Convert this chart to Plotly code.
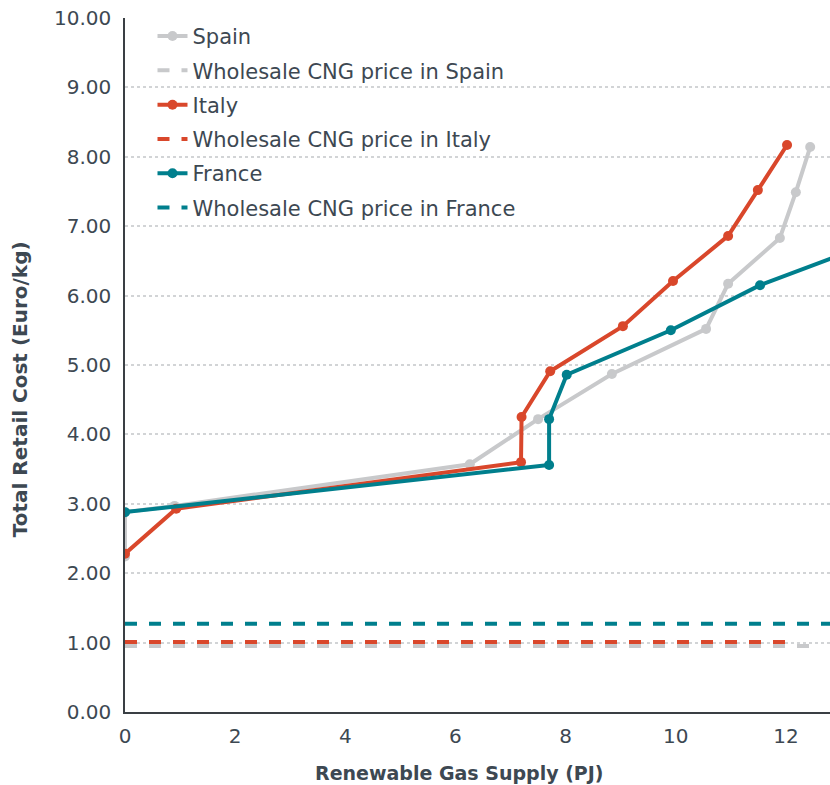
import plotly.graph_objects as go

spain_x = [0, 0, 0.9, 6.26, 7.5, 8.84, 10.55, 10.95, 11.89, 12.18, 12.44]
spain_y = [2.24, 2.88, 2.97, 3.57, 4.22, 4.87, 5.52, 6.17, 6.83, 7.49, 8.14]

italy_x = [0, 0.93, 7.19, 7.2, 7.72, 9.04, 9.95, 10.95, 11.49, 12.02]
italy_y = [2.28, 2.93, 3.60, 4.25, 4.91, 5.56, 6.21, 6.86, 7.52, 8.17]

france_x = [0, 7.7, 7.7, 8.02, 9.91, 11.53, 13.7]
france_y = [2.88, 3.56, 4.22, 4.86, 5.50, 6.15, 6.80]

wholesale_spain_x = [0, 12.47]
wholesale_spain_y = [0.95, 0.95]
wholesale_italy_x = [0, 12.02]
wholesale_italy_y = [1.01, 1.01]
wholesale_france_x = [0, 13.7]
wholesale_france_y = [1.27, 1.27]

x_title = "Renewable Gas Supply (PJ)"
y_title = "Total Retail Cost (Euro/kg)"

GRAY = "#c8c9cb"
RED = "#d9472b"
TEAL = "#007f8d"
TEXT = "#3d4852"
FONT = "DejaVu Sans, sans-serif"

fig = go.Figure()
series = [
    (spain_x, spain_y, "Spain", GRAY, True),
    (wholesale_spain_x, wholesale_spain_y, "Wholesale CNG price in Spain", GRAY, False),
    (italy_x, italy_y, "Italy", RED, True),
    (wholesale_italy_x, wholesale_italy_y, "Wholesale CNG price in Italy", RED, False),
    (france_x, france_y, "France", TEAL, True),
    (wholesale_france_x, wholesale_france_y, "Wholesale CNG price in France", TEAL, False),
]
for i, (xs, ys, name, col, solid) in enumerate(series):
    if solid:
        fig.add_trace(go.Scatter(x=xs, y=ys, mode="lines+markers", name=name,
                                 legendgroup=f"g{i}",
                                 line=dict(color=col, width=4),
                                 marker=dict(size=10, color=col)))
    else:
        fig.add_trace(go.Scatter(x=xs, y=ys, mode="lines", name=name,
                                 legendgroup=f"g{i}",
                                 line=dict(color=col, width=4, dash="dash")))

fig.add_annotation(text=f"<b>{x_title}</b>", xref="paper", yref="paper",
                   x=0.474, y=0, yshift=-61, xanchor="center", yanchor="middle",
                   showarrow=False, font=dict(size=19, color=TEXT, family=FONT))
fig.add_annotation(text=f"<b>{y_title}</b>", xref="paper", yref="paper",
                   x=-0.149, y=0.465, textangle=-90, xanchor="center", yanchor="middle",
                   showarrow=False, font=dict(size=20, color=TEXT, family=FONT))

fig.update_layout(
    width=830, height=785,
    margin=dict(l=125, r=0, t=18, b=73),
    paper_bgcolor="white", plot_bgcolor="white",
    font=dict(family=FONT, color=TEXT, size=19),
    showlegend=True,
    legend=dict(x=0.039, y=1.003, xanchor="left", yanchor="top",
                bgcolor="rgba(255,255,255,0)", font=dict(size=21, color=TEXT, family=FONT),
                tracegroupgap=4, itemwidth=30),
    xaxis=dict(range=[0, 12.8], tickvals=[0, 2, 4, 6, 8, 10, 12],
               showgrid=False, zeroline=False, showline=True,
               linecolor="#3a3f44", linewidth=1.5, automargin=False,
               ticks="", ticklabelstandoff=5, ticklabeloverflow="allow",
               tickfont=dict(size=20, color=TEXT, family=FONT)),
    yaxis=dict(range=[0, 10], tickvals=[0, 1, 2, 3, 4, 5, 6, 7, 8, 9, 10],
               tickformat=".2f", showgrid=True, gridcolor="#d2d4d6", griddash="dot",
               gridwidth=1.5, zeroline=False, showline=True,
               linecolor="#3a3f44", linewidth=1.5, automargin=False,
               ticks="", ticklabelstandoff=8, ticklabeloverflow="allow",
               tickfont=dict(size=20, color=TEXT, family=FONT)),
)

fig.write_html("out.html", config={"displayModeBar": False},
               post_script="document.body.style.margin='0';document.body.style.overflow='hidden';")
